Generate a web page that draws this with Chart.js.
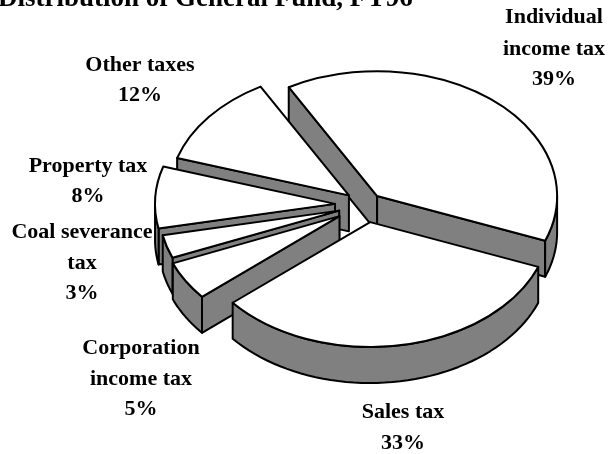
<!DOCTYPE html>
<html><head><meta charset="utf-8">
<style>html,body{margin:0;padding:0;background:#fff}#w{width:608px;height:454px;position:relative}</style>
<script src="https://cdn.jsdelivr.net/npm/chart.js@4"></script>
</head><body><div id="w"><canvas id="c"></canvas></div>
<script>
const categories = ["Individual income tax","Sales tax","Corporation income tax","Coal severance tax","Property tax","Other taxes"];
const shares = [39,33,5,3,8,12];
const chartTitle = "Distribution of General Fund, FY96";

const explodePx = [17,25,31,28,31,22];
const paintOrder = [0,5,4,3,2,1];
const K = 0.694, DEPTH = 36, WALL = '#808080';
const FONT = 'bold 22px "Liberation Serif"';
const labelLayout = [
  {x:554,y:[23,55,85],lines:["Individual","income tax","39%"]},
  {x:403,y:[418,449],lines:["Sales tax","33%"]},
  {x:141,y:[354,385,415],lines:["Corporation","income tax","5%"]},
  {x:82,y:[238,269,299],lines:["Coal severance","tax","3%"]},
  {x:88,y:[172,202],lines:["Property tax","8%"]},
  {x:140,y:[71,101],lines:["Other taxes","12%"]}
];

const pie3d = {
  id:'pie3d',
  beforeDatasetDraw(chart,args){
    const ctx = chart.ctx, els = chart.getDatasetMeta(0).data;
    paintOrder.forEach(i=>{
      const el = els[i];
      const {x,y,startAngle:a1,endAngle:a2,outerRadius:r} = el;
      const mid = (a1+a2)/2;
      const ox = explodePx[i]*Math.cos(mid), oy = explodePx[i]*Math.sin(mid);
      const P = (a,rad,d=0)=>[x+ox+rad*Math.cos(a), y+(oy+rad*Math.sin(a))*K+d];
      ctx.save();
      ctx.lineWidth = 2; ctx.lineJoin='round'; ctx.strokeStyle='#000'; ctx.fillStyle=WALL;
      // radial walls that face the viewer
      const facing = [];
      if(Math.cos(a1)<0) facing.push(a1);
      if(Math.cos(a2)>0) facing.push(a2);
      facing.forEach(a=>{
        const A=P(a,0),B=P(a,r);
        ctx.beginPath();ctx.moveTo(...A);ctx.lineTo(...B);ctx.lineTo(B[0],B[1]+DEPTH);ctx.lineTo(A[0],A[1]+DEPTH);ctx.closePath();ctx.fill();ctx.stroke();
      });
      // outer wall
      const s=Math.max(a1,0), e=Math.min(a2,Math.PI);
      if(e>s){
        ctx.beginPath();
        const n=48;
        for(let k=0;k<=n;k++){const p=P(s+(e-s)*k/n,r);k?ctx.lineTo(...p):ctx.moveTo(...p);}
        for(let k=n;k>=0;k--){const p=P(s+(e-s)*k/n,r,DEPTH);ctx.lineTo(...p);}
        ctx.closePath();ctx.fill();ctx.stroke();
      }
      // top face, drawn by the library's arc element
      ctx.save();
      ctx.translate(x,y);ctx.scale(1,K);ctx.translate(-x,-y);ctx.translate(ox,oy);
      el.draw(ctx);
      ctx.restore();
      // outline
      ctx.save();
      ctx.translate(x,y);ctx.scale(1,K);ctx.translate(-x,-y);ctx.translate(ox,oy);
      ctx.beginPath();ctx.moveTo(x,y);ctx.arc(x,y,r,a1,a2);ctx.closePath();
      ctx.restore();
      ctx.stroke();
      ctx.restore();
    });
    return false;
  },
  afterDraw(chart){
    const ctx=chart.ctx;
    ctx.save();
    ctx.fillStyle='#000';ctx.textBaseline='alphabetic';ctx.textAlign='center';ctx.font=FONT;
    labelLayout.forEach(l=>l.lines.forEach((t,j)=>ctx.fillText(t,l.x,l.y[j])));
    ctx.textAlign='left';ctx.font='bold 27px "Liberation Serif"';
    ctx.fillText(chartTitle,-2,6);
    ctx.restore();
  }
};

new Chart(document.getElementById('c'),{
  type:'pie',
  data:{labels:categories,datasets:[{data:shares,backgroundColor:'#fff',borderWidth:0,hoverOffset:0}]},
  plugins:[pie3d],
  options:{
    responsive:true,maintainAspectRatio:false,animation:false,
    rotation:-29.4,radius:180,
    layout:{padding:{left:124,bottom:44}},
    plugins:{legend:{display:false},tooltip:{enabled:false},title:{display:false}},
    events:[]
  }
});
</script></body></html>
